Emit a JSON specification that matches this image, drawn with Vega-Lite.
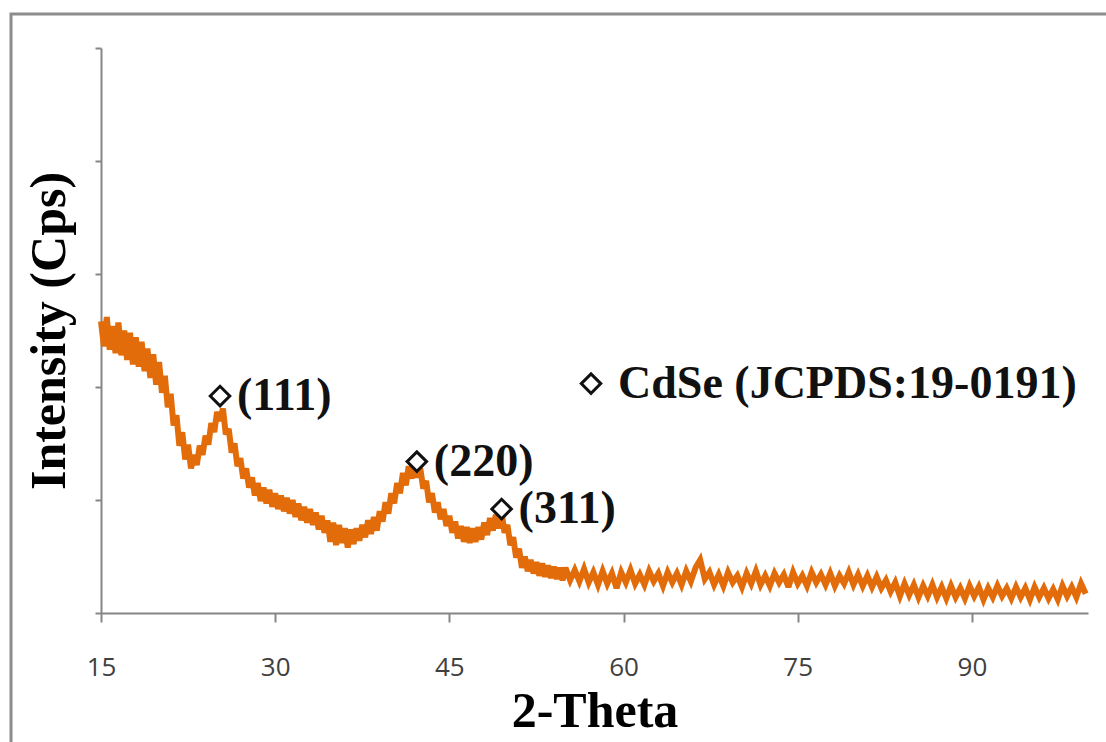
{
  "$schema": "https://vega.github.io/schema/vega-lite/v6.json",
  "autosize": {"type": "none"},
  "width": 987,
  "height": 565,
  "padding": {"left": 101, "top": 48, "right": 18, "bottom": 129},
  "background": "white",
  "config": {"view": {"stroke": null}, "axis": {"grid": false}},
  "datasets": {
    "xrd": [
      {"x":15.00,"y":258},{"x":15.25,"y":236},{"x":15.50,"y":262},{"x":15.75,"y":233},{"x":16.00,"y":254},{"x":16.25,"y":230},{"x":16.50,"y":257},{"x":16.75,"y":228},
      {"x":17.00,"y":250},{"x":17.25,"y":224},{"x":17.50,"y":248},{"x":17.75,"y":220},{"x":18.00,"y":244},{"x":18.25,"y":218},{"x":18.50,"y":240},{"x":18.75,"y":214},
      {"x":19.00,"y":234},{"x":19.25,"y":208},{"x":19.50,"y":229},{"x":19.75,"y":202},{"x":20.00,"y":222},{"x":20.25,"y":195},{"x":20.50,"y":210},{"x":20.75,"y":182},
      {"x":21.00,"y":194},{"x":21.25,"y":166},{"x":21.50,"y":175},{"x":21.75,"y":148},{"x":22.00,"y":160},{"x":22.25,"y":136},{"x":22.50,"y":149},{"x":22.75,"y":128},
      {"x":23.00,"y":140},{"x":23.25,"y":131},{"x":23.50,"y":148},{"x":23.75,"y":140},{"x":24.00,"y":157},{"x":24.25,"y":149},{"x":24.50,"y":168},{"x":24.75,"y":160},
      {"x":25.00,"y":178},{"x":25.25,"y":170},{"x":25.50,"y":181},{"x":25.75,"y":158},{"x":26.00,"y":163},{"x":26.25,"y":142},{"x":26.50,"y":150},{"x":26.75,"y":130},
      {"x":27.00,"y":137},{"x":27.25,"y":119},{"x":27.50,"y":128},{"x":27.75,"y":111},{"x":28.00,"y":120},{"x":28.25,"y":104},{"x":28.50,"y":115},{"x":28.75,"y":99},
      {"x":29.00,"y":111},{"x":29.25,"y":97},{"x":29.50,"y":109},{"x":29.75,"y":94},{"x":30.00,"y":106},{"x":30.25,"y":92},{"x":30.50,"y":104},{"x":30.75,"y":90},
      {"x":31.00,"y":102},{"x":31.25,"y":88},{"x":31.50,"y":100},{"x":31.75,"y":85},{"x":32.00,"y":97},{"x":32.25,"y":82},{"x":32.50,"y":94},{"x":32.75,"y":80},
      {"x":33.00,"y":92},{"x":33.25,"y":78},{"x":33.50,"y":89},{"x":33.75,"y":74},{"x":34.00,"y":86},{"x":34.25,"y":71},{"x":34.50,"y":82},{"x":34.75,"y":63},
      {"x":35.00,"y":80},{"x":35.25,"y":60},{"x":35.50,"y":78},{"x":35.75,"y":62},{"x":36.00,"y":75},{"x":36.25,"y":58},{"x":36.50,"y":74},{"x":36.75,"y":61},
      {"x":37.00,"y":75},{"x":37.25,"y":64},{"x":37.50,"y":78},{"x":37.75,"y":67},{"x":38.00,"y":82},{"x":38.25,"y":70},{"x":38.50,"y":85},{"x":38.75,"y":73},
      {"x":39.00,"y":90},{"x":39.25,"y":81},{"x":39.50,"y":98},{"x":39.75,"y":88},{"x":40.00,"y":106},{"x":40.25,"y":97},{"x":40.50,"y":115},{"x":40.75,"y":106},
      {"x":41.00,"y":124},{"x":41.25,"y":113},{"x":41.50,"y":130},{"x":41.75,"y":119},{"x":42.00,"y":134},{"x":42.25,"y":120},{"x":42.50,"y":128},{"x":42.75,"y":110},
      {"x":43.00,"y":117},{"x":43.25,"y":98},{"x":43.50,"y":106},{"x":43.75,"y":89},{"x":44.00,"y":98},{"x":44.25,"y":83},{"x":44.50,"y":92},{"x":44.75,"y":77},
      {"x":45.00,"y":86},{"x":45.25,"y":71},{"x":45.50,"y":81},{"x":45.75,"y":66},{"x":46.00,"y":77},{"x":46.25,"y":63},{"x":46.50,"y":76},{"x":46.75,"y":62},
      {"x":47.00,"y":75},{"x":47.25,"y":63},{"x":47.50,"y":76},{"x":47.75,"y":65},{"x":48.00,"y":80},{"x":48.25,"y":69},{"x":48.50,"y":84},{"x":48.75,"y":73},
      {"x":49.00,"y":87},{"x":49.25,"y":75},{"x":49.50,"y":89},{"x":49.75,"y":71},{"x":50.00,"y":78},{"x":50.25,"y":60},{"x":50.50,"y":67},{"x":50.75,"y":49},
      {"x":51.00,"y":57},{"x":51.25,"y":40},{"x":51.50,"y":50},{"x":51.75,"y":37},{"x":52.00,"y":47},{"x":52.25,"y":35},{"x":52.50,"y":45},{"x":52.75,"y":33},
      {"x":53.00,"y":44},{"x":53.25,"y":32},{"x":53.50,"y":42},{"x":53.75,"y":31},{"x":54.00,"y":41},{"x":54.25,"y":30},{"x":54.50,"y":40},{"x":54.75,"y":29},
      {"x":55.0,"y":40},{"x":55.4,"y":29},{"x":55.8,"y":38},{"x":56.2,"y":28},{"x":56.6,"y":39},{"x":57.0,"y":27},{"x":57.4,"y":36},{"x":57.8,"y":25},
      {"x":58.2,"y":37},{"x":58.6,"y":26},{"x":59.0,"y":35},{"x":59.4,"y":22},{"x":59.8,"y":36},{"x":60.2,"y":27},{"x":60.6,"y":38},{"x":61.0,"y":26},
      {"x":61.4,"y":34},{"x":61.8,"y":25},{"x":62.2,"y":37},{"x":62.6,"y":28},{"x":63.0,"y":35},{"x":63.4,"y":24},{"x":63.8,"y":36},{"x":64.2,"y":27},
      {"x":64.6,"y":35},{"x":65.0,"y":25},{"x":65.4,"y":37},{"x":65.8,"y":28},{"x":66.2,"y":40},{"x":66.6,"y":47},{"x":67.0,"y":30},{"x":67.4,"y":36},
      {"x":67.8,"y":25},{"x":68.2,"y":34},{"x":68.6,"y":24},{"x":69.0,"y":36},{"x":69.4,"y":27},{"x":69.8,"y":33},{"x":70.2,"y":23},{"x":70.6,"y":35},
      {"x":71.0,"y":26},{"x":71.4,"y":37},{"x":71.8,"y":25},{"x":72.2,"y":33},{"x":72.6,"y":24},{"x":73.0,"y":35},{"x":73.4,"y":27},{"x":73.8,"y":34},
      {"x":74.2,"y":23},{"x":74.6,"y":36},{"x":75.0,"y":26},{"x":75.4,"y":33},{"x":75.8,"y":24},{"x":76.2,"y":36},{"x":76.6,"y":27},{"x":77.0,"y":34},
      {"x":77.4,"y":25},{"x":77.8,"y":35},{"x":78.2,"y":24},{"x":78.6,"y":33},{"x":79.0,"y":26},{"x":79.4,"y":36},{"x":79.8,"y":25},{"x":80.2,"y":34},
      {"x":80.6,"y":24},{"x":81.0,"y":33},{"x":81.4,"y":23},{"x":81.8,"y":32},{"x":82.2,"y":22},{"x":82.6,"y":29},{"x":83.0,"y":19},{"x":83.4,"y":27},
      {"x":83.8,"y":15},{"x":84.2,"y":26},{"x":84.6,"y":16},{"x":85.0,"y":25},{"x":85.4,"y":14},{"x":85.8,"y":24},{"x":86.2,"y":15},{"x":86.6,"y":25},
      {"x":87.0,"y":14},{"x":87.4,"y":23},{"x":87.8,"y":13},{"x":88.2,"y":24},{"x":88.6,"y":14},{"x":89.0,"y":22},{"x":89.4,"y":13},{"x":89.8,"y":24},
      {"x":90.2,"y":15},{"x":90.6,"y":23},{"x":91.0,"y":12},{"x":91.4,"y":22},{"x":91.8,"y":14},{"x":92.2,"y":24},{"x":92.6,"y":15},{"x":93.0,"y":22},
      {"x":93.4,"y":13},{"x":93.8,"y":23},{"x":94.2,"y":14},{"x":94.6,"y":22},{"x":95.0,"y":12},{"x":95.4,"y":23},{"x":95.8,"y":14},{"x":96.2,"y":22},
      {"x":96.6,"y":13},{"x":97.0,"y":21},{"x":97.4,"y":12},{"x":97.8,"y":24},{"x":98.2,"y":15},{"x":98.6,"y":23},{"x":99.0,"y":14},{"x":99.4,"y":26},
      {"x":99.8,"y":17}
    ],
    "peaks": [
      {"x":25.25,"y":192,"label":"(111)","kind":"peak"},
      {"x":42.2,"y":134,"label":"(220)","kind":"peak"},
      {"x":49.5,"y":92,"label":"(311)","kind":"peak"},
      {"x":57.2,"y":203,"label":"CdSe (JCPDS:19-0191)","kind":"legend"}
    ],
    "frame": [{"x0": 7.25, "x1": 120, "y0": 530, "y1": -200}]
  },
  "encoding": {
    "x": {
      "field": "x", "type": "quantitative",
      "scale": {"domain": [15, 100], "nice": false, "zero": false},
      "axis": {
        "title": "2-Theta", "values": [15, 30, 45, 60, 75, 90],
        "domainColor": "#868686", "domainWidth": 2,
        "tickColor": "#868686", "tickWidth": 2, "tickSize": 9,
        "labelFont": "Open Sans", "labelFontSize": 26, "labelColor": "#404040",
        "labelPadding": 32, "labelFlush": false, "labelOverlap": false,
        "titleFont": "Liberation Serif", "titleFontSize": 50, "titleFontWeight": "bold",
        "titleColor": "#000000", "titlePadding": 6
      }
    },
    "y": {
      "field": "y", "type": "quantitative",
      "scale": {"domain": [0, 500], "nice": false},
      "axis": {
        "title": "Intensity (Cps)", "values": [0, 100, 200, 300, 400, 500],
        "labels": false,
        "domainColor": "#868686", "domainWidth": 2,
        "tickColor": "#868686", "tickWidth": 2, "tickSize": 6,
        "titleFont": "Liberation Serif", "titleFontSize": 50, "titleFontWeight": "bold",
        "titleColor": "#000000", "titlePadding": 20
      }
    }
  },
  "layer": [
    {
      "data": {"name": "frame"},
      "mark": {"type": "rect", "fill": "transparent", "stroke": "#8c8c8c", "strokeWidth": 3, "clip": false},
      "encoding": {
        "x": {"field": "x0", "type": "quantitative", "title": "2-Theta"},
        "x2": {"field": "x1"},
        "y": {"field": "y0", "type": "quantitative", "title": "Intensity (Cps)"},
        "y2": {"field": "y1"}
      }
    },
    {
      "data": {"name": "xrd"},
      "mark": {"type": "line", "color": "#E36C0A", "strokeWidth": 6, "strokeJoin": "miter", "strokeMiterLimit": 3, "interpolate": "linear"}
    },
    {
      "data": {"name": "peaks"},
      "mark": {"type": "point", "shape": "diamond", "filled": true, "fill": "white", "stroke": "#111111", "strokeWidth": 3, "size": 380, "opacity": 1}
    },
    {
      "data": {"name": "peaks"},
      "transform": [{"filter": "datum.kind === 'peak'"}],
      "mark": {"type": "text", "align": "left", "baseline": "middle", "dx": 17, "font": "Liberation Serif", "fontWeight": "bold", "fontSize": 46, "color": "#111111"},
      "encoding": {"text": {"field": "label"}}
    },
    {
      "data": {"name": "peaks"},
      "transform": [{"filter": "datum.kind === 'legend'"}],
      "mark": {"type": "text", "align": "left", "baseline": "middle", "dx": 27, "font": "Liberation Serif", "fontWeight": "bold", "fontSize": 46, "color": "#111111"},
      "encoding": {"text": {"field": "label"}}
    }
  ]
}
